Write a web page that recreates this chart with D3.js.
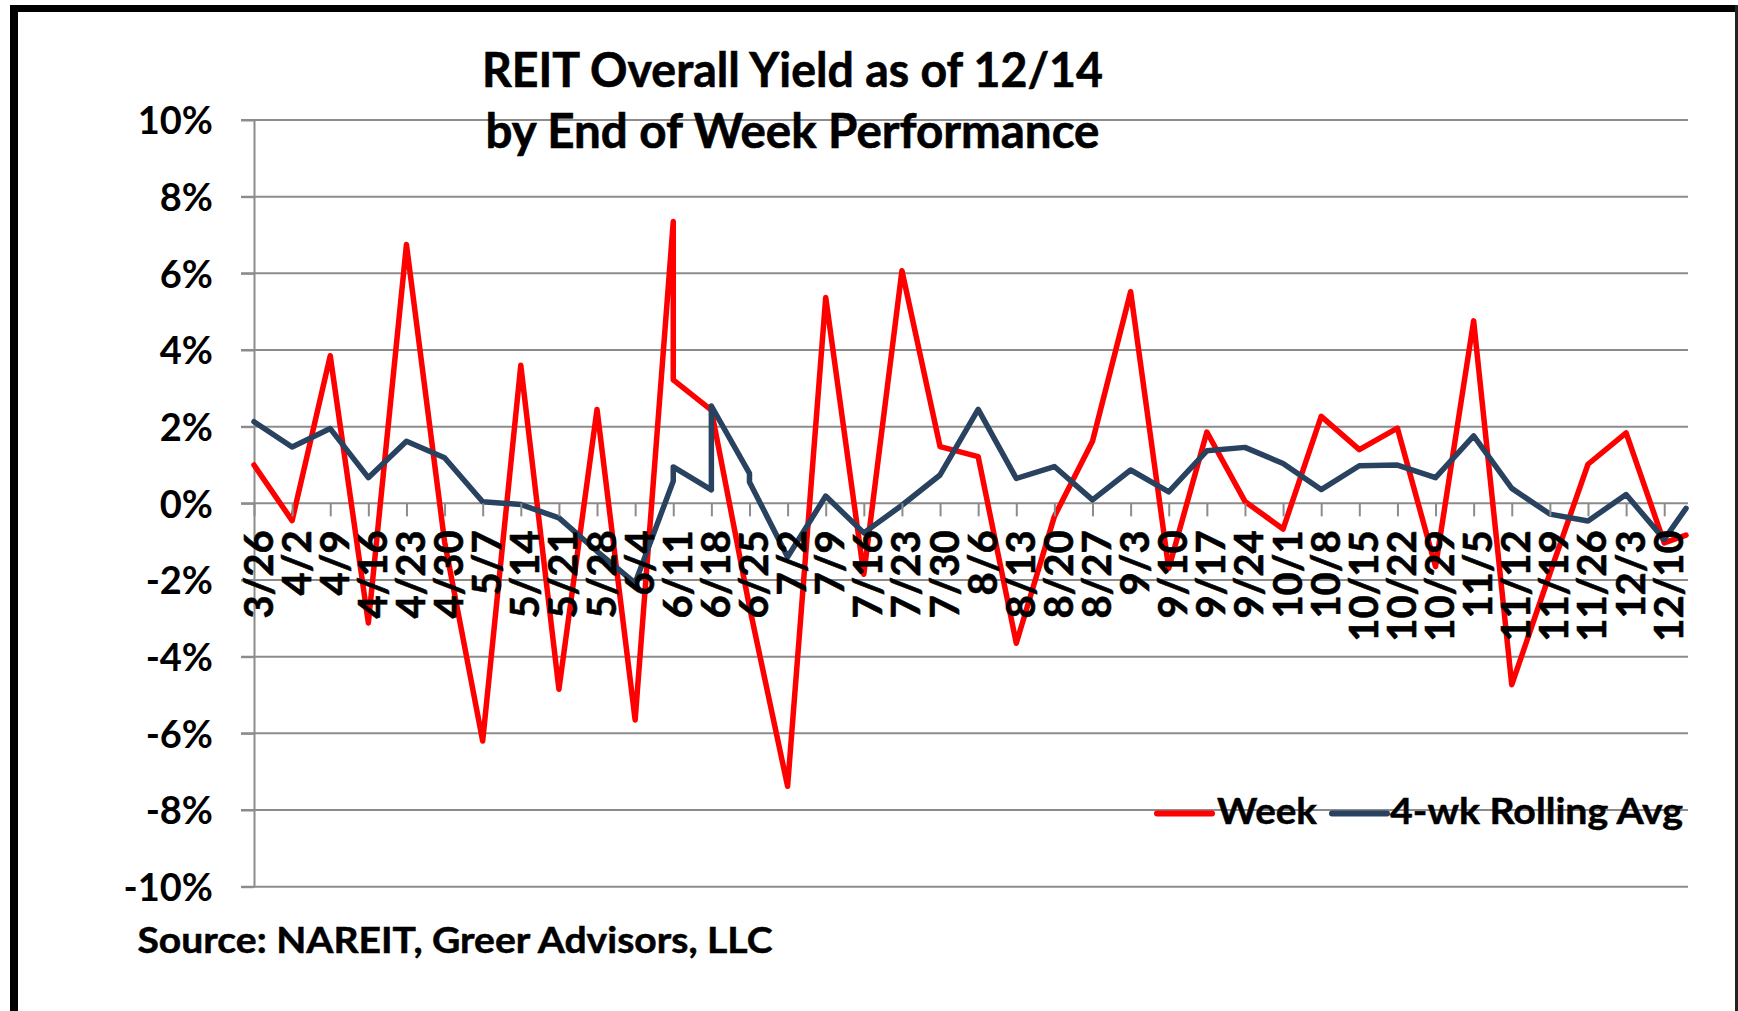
<!DOCTYPE html>
<html><head><meta charset="utf-8">
<script src="https://cdn.jsdelivr.net/npm/d3@7"></script>
<style>
html,body{margin:0;padding:0;background:#fff;}
svg{display:block;}
text{font-family:Lato,"Open Sans",sans-serif;font-weight:700;fill:#000;}
</style>
</head><body>
<svg id="chart" width="1738" height="1011"></svg>
<script>
// ---------------- data ----------------
const YEAR = 2011;
const dates = ["3/26","4/2","4/9","4/16","4/23","4/30","5/7","5/14","5/21","5/28","6/4",
  "6/11","6/11","6/18","6/18","6/25","6/25","7/2","7/9","7/16","7/23","7/30","8/6","8/13",
  "8/20","8/27","9/3","9/10","9/17","9/24","10/1","10/8","10/15","10/22","10/29","11/5",
  "11/12","11/19","11/26","12/3","12/10","12/14"];
const weekValues = [1.00,-0.45,3.85,-3.12,6.75,-1.00,-6.20,3.60,-4.85,2.45,-5.65,
  7.35,3.22,2.43,2.43,-2.70,-2.70,-7.38,5.37,-1.85,6.07,1.48,1.22,-3.65,
  -0.34,1.62,5.52,-1.70,1.86,0.05,-0.67,2.27,1.40,1.96,-1.65,4.76,
  -4.73,-1.83,1.02,1.84,-1.03,-0.83];
const avgValues = [2.13,1.47,1.95,0.67,1.62,1.19,0.04,-0.03,-0.38,-1.25,-2.08,
  0.58,0.95,0.35,2.54,0.78,0.56,-1.40,0.19,-0.77,-0.05,0.74,2.45,0.65,
  0.96,0.09,0.87,0.30,1.37,1.46,1.04,0.36,0.98,1.00,0.67,1.76,
  0.39,-0.28,-0.46,0.23,-0.94,-0.13];
const tickLabels = ["3/26","4/2","4/9","4/16","4/23","4/30","5/7","5/14","5/21","5/28","6/4",
  "6/11","6/18","6/25","7/2","7/9","7/16","7/23","7/30","8/6","8/13","8/20","8/27","9/3",
  "9/10","9/17","9/24","10/1","10/8","10/15","10/22","10/29","11/5","11/12","11/19","11/26",
  "12/3","12/10"];
const yTicks = [-10,-8,-6,-4,-2,0,2,4,6,8,10];
const seriesNames = ["Week","4-wk Rolling Avg"];
const seriesColors = ["#ff0000","#28425f"];
const titleLines = ["REIT Overall Yield as of 12/14","by End of Week Performance"];
const sourceText = "Source: NAREIT, Greer Advisors, LLC";

// ---------------- drawing ----------------
const parse = s => d3.timeParse("%m/%d/%Y")(s + "/" + YEAR);
const svg = d3.select("#chart");

const plotL = 254, plotR = 1686, plotT = 120, plotB = 886.7;
const x = d3.scaleTime().domain([parse(dates[0]), parse(dates[dates.length-1])]).range([plotL, plotR]);
const y = d3.scaleLinear().domain([-10, 10]).range([plotB, plotT]);
const gridColor = "#8c8c8c";

// frame
svg.append("rect").attr("x",10).attr("y",5).attr("width",8).attr("height",1006).attr("fill","#000");
svg.append("rect").attr("x",10).attr("y",5).attr("width",1728).attr("height",7).attr("fill","#000");
svg.append("rect").attr("x",1735).attr("y",5).attr("width",3).attr("height",1006).attr("fill","#222");

// gridlines
svg.append("g").selectAll("line").data(yTicks).join("line")
  .attr("x1", plotL - 13).attr("x2", plotR + 2)
  .attr("y1", d => y(d)).attr("y2", d => y(d))
  .attr("stroke", gridColor).attr("stroke-width", 2);

// y axis
const yAxis = svg.append("g").attr("transform", `translate(${plotL},0)`)
  .call(d3.axisLeft(y).tickValues(yTicks).tickSize(13).tickSizeOuter(0).tickPadding(28)
        .tickFormat(d => d + "%"));
yAxis.select(".domain").attr("stroke", gridColor).attr("stroke-width", 2);
yAxis.selectAll(".tick line").attr("stroke", gridColor).attr("stroke-width", 2);
yAxis.selectAll(".tick text").attr("font-size", 38).attr("font-family", "Lato")
  .attr("font-weight", 700).attr("fill", "#000").attr("dy", "0.36em");

// x axis
const tickDates = tickLabels.map(parse);
const xAxis = svg.append("g").attr("transform", `translate(0,${y(0)})`)
  .call(d3.axisBottom(x).tickValues(tickDates).tickSize(13).tickSizeOuter(0)
        .tickFormat(d3.timeFormat("%-m/%-d")));
xAxis.select(".domain").remove();
xAxis.selectAll(".tick line").attr("stroke", gridColor).attr("stroke-width", 2);

// series lines
const rows = dates.map((d, i) => ({date: parse(d), week: weekValues[i], avg: avgValues[i]}));
const keys = ["week", "avg"];
keys.forEach((k, i) => {
  svg.append("path").datum(rows)
    .attr("fill", "none").attr("stroke", seriesColors[i]).attr("stroke-width", 5.5)
    .attr("stroke-linejoin", "round").attr("stroke-linecap", "round")
    .attr("d", d3.line().x(d => x(d.date)).y(d => y(d[k])));
});

// x tick labels (drawn above lines)
xAxis.raise();
xAxis.selectAll(".tick text")
  .attr("transform", "rotate(-90)")
  .attr("x", -27).attr("y", 18).attr("dy", 0)
  .attr("text-anchor", "end")
  .attr("font-size", 40).attr("font-family", "Lato").attr("font-weight", 700).attr("fill", "#000")
  .attr("stroke", "#000").attr("stroke-width", 0.6);

// title
const titleSpecs = [{b: 86.5, w: 621}, {b: 148, w: 614}];
titleLines.forEach((t, i) => {
  svg.append("text").attr("x", 792.5).attr("y", titleSpecs[i].b)
    .attr("text-anchor", "middle").attr("font-size", 48)
    .attr("stroke", "#000").attr("stroke-width", 0.6)
    .attr("textLength", titleSpecs[i].w).attr("lengthAdjust", "spacingAndGlyphs").text(t);
});

// source
svg.append("text").attr("x", 137.5).attr("y", 953).attr("font-size", 36)
  .attr("stroke", "#000").attr("stroke-width", 0.5)
  .attr("textLength", 635).attr("lengthAdjust", "spacingAndGlyphs").text(sourceText);

// legend
const legendSpecs = [{x1: 1157, x2: 1212, tx: 1217, tw: 100}, {x1: 1332, x2: 1387, tx: 1390, tw: 293}];
seriesNames.forEach((n, i) => {
  const s = legendSpecs[i];
  svg.append("line").attr("x1", s.x1).attr("x2", s.x2).attr("y1", 813.5).attr("y2", 813.5)
    .attr("stroke", seriesColors[i]).attr("stroke-width", 6).attr("stroke-linecap", "round");
  svg.append("text").attr("x", s.tx).attr("y", 824).attr("font-size", 37)
    .attr("stroke", "#000").attr("stroke-width", 0.5)
    .attr("textLength", s.tw).attr("lengthAdjust", "spacingAndGlyphs").text(n);
});
</script>
</body></html>
